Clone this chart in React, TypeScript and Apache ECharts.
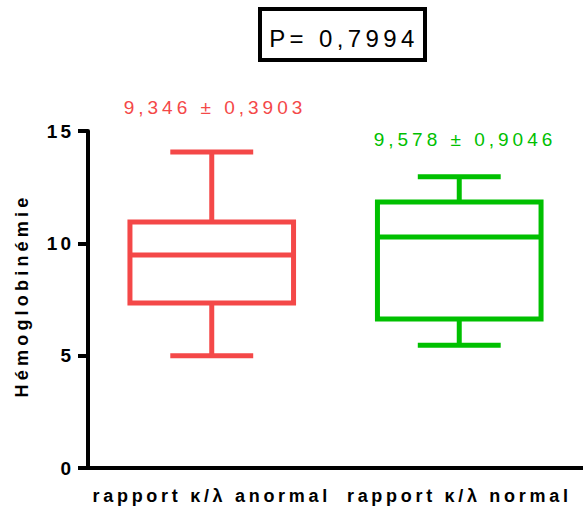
import React, { useEffect, useRef } from "react";
import * as echarts from "echarts";

const categories = ["rapport κ/λ anormal", "rapport κ/λ normal"];
const minValues = [5.0, 5.46];
const q1Values = [7.34, 6.63];
const medianValues = [9.48, 10.28];
const q3Values = [10.95, 11.84];
const maxValues = [14.07, 12.96];
const meanLabels = ["9,346 ± 0,3903", "9,578 ± 0,9046"];
const seriesColors = ["#F44848", "#00C000"];
const yTicks = [0, 5, 10, 15];
const pValueText = "P= 0,7994";
const yAxisTitle = "Hémoglobinémie";

const FONT = "'Liberation Sans', Arial, sans-serif";

function spacingFor(t: string): string {
  if (t === pValueText) return "4.4";
  if (meanLabels.includes(t)) return "4";
  if (t === yAxisTitle) return "4.2";
  if (categories.includes(t)) return "3.7";
  return "3";
}

export default function App() {
  const ref = useRef<HTMLDivElement>(null);

  useEffect(() => {
    document.body.style.margin = "0";
    if (!ref.current) return;
    const chart = echarts.init(ref.current, null, { renderer: "svg" });

    const data = categories.map((_, i) => [
      i,
      minValues[i],
      q1Values[i],
      medianValues[i],
      q3Values[i],
      maxValues[i],
    ]);

    const applySpacing = () => {
      if (!ref.current) return;
      ref.current.querySelectorAll("text").forEach((el) => {
        el.setAttribute("letter-spacing", spacingFor(el.textContent || ""));
      });
    };

    chart.on("finished", applySpacing);

    chart.setOption({
      animation: false,
      backgroundColor: "#ffffff",
      grid: { left: 88, top: 131, width: 502, height: 337 },
      xAxis: {
        type: "category",
        data: categories,
        boundaryGap: true,
        axisLine: { lineStyle: { color: "#000", width: 4 } },
        axisTick: {
          alignWithLabel: true,
          length: 7,
          lineStyle: { color: "#000", width: 4 },
        },
        axisLabel: {
          interval: 0,
          margin: 19,
          color: "#000",
          fontFamily: FONT,
          fontWeight: "bold",
          fontSize: 18,
        },
        splitLine: { show: false },
      },
      yAxis: {
        type: "value",
        min: yTicks[0],
        max: yTicks[yTicks.length - 1],
        interval: 5,
        name: yAxisTitle,
        nameLocation: "middle",
        nameRotate: 90,
        nameGap: 57,
        nameTextStyle: {
          color: "#000",
          fontFamily: FONT,
          fontWeight: "bold",
          fontSize: 18,
          padding: [0, 0, 0, 8],
        },
        axisLine: { show: true, lineStyle: { color: "#000", width: 4 } },
        axisTick: { show: true, length: 10, lineStyle: { color: "#000", width: 4 } },
        axisLabel: {
          margin: 14,
          color: "#000",
          fontFamily: FONT,
          fontWeight: "bold",
          fontSize: 19,
        },
        splitLine: { show: false },
      },
      series: [
        {
          type: "custom",
          data,
          encode: { x: 0, y: [1, 2, 3, 4, 5] },
          renderItem: (params: any, api: any) => {
            const idx = api.value(0);
            const band = api.size([1, 0])[0];
            const boxW = band * 0.661;
            const capW = band * 0.335;
            const cx = api.coord([idx, api.value(3)])[0];
            const yMin = api.coord([idx, api.value(1)])[1];
            const yQ1 = api.coord([idx, api.value(2)])[1];
            const yMed = api.coord([idx, api.value(3)])[1];
            const yQ3 = api.coord([idx, api.value(4)])[1];
            const yMax = api.coord([idx, api.value(5)])[1];
            const color = seriesColors[params.dataIndex];
            const ls = { stroke: color, lineWidth: 5, fill: "none", lineCap: "butt" };
            return {
              type: "group",
              children: [
                { type: "line", shape: { x1: cx, y1: yQ3, x2: cx, y2: yMax }, style: ls },
                { type: "line", shape: { x1: cx, y1: yQ1, x2: cx, y2: yMin }, style: ls },
                {
                  type: "line",
                  shape: { x1: cx - capW / 2, y1: yMax, x2: cx + capW / 2, y2: yMax },
                  style: ls,
                },
                {
                  type: "line",
                  shape: { x1: cx - capW / 2, y1: yMin, x2: cx + capW / 2, y2: yMin },
                  style: ls,
                },
                {
                  type: "rect",
                  shape: { x: cx - boxW / 2, y: yQ3, width: boxW, height: yQ1 - yQ3 },
                  style: { stroke: color, lineWidth: 5, fill: "#ffffff" },
                },
                {
                  type: "line",
                  shape: { x1: cx - boxW / 2, y1: yMed, x2: cx + boxW / 2, y2: yMed },
                  style: ls,
                },
              ],
            };
          },
        },
      ],
      graphic: [
        {
          type: "rect",
          shape: { x: 260, y: 9, width: 165, height: 51 },
          style: { stroke: "#000", lineWidth: 4, fill: "#fff" },
        },
        {
          type: "text",
          x: 344,
          y: 38,
          style: {
            text: pValueText,
            fill: "#000",
            font: `24px ${FONT}`,
            textAlign: "center",
            textVerticalAlign: "middle",
          },
        },
        {
          type: "text",
          x: 215,
          y: 107,
          style: {
            text: meanLabels[0],
            fill: seriesColors[0],
            font: `19px ${FONT}`,
            textAlign: "center",
            textVerticalAlign: "middle",
          },
        },
        {
          type: "text",
          x: 465,
          y: 139,
          style: {
            text: meanLabels[1],
            fill: seriesColors[1],
            font: `19px ${FONT}`,
            textAlign: "center",
            textVerticalAlign: "middle",
          },
        },
      ],
    });

    applySpacing();

    return () => chart.dispose();
  }, []);

  return <div ref={ref} style={{ width: 583, height: 511 }} />;
}
